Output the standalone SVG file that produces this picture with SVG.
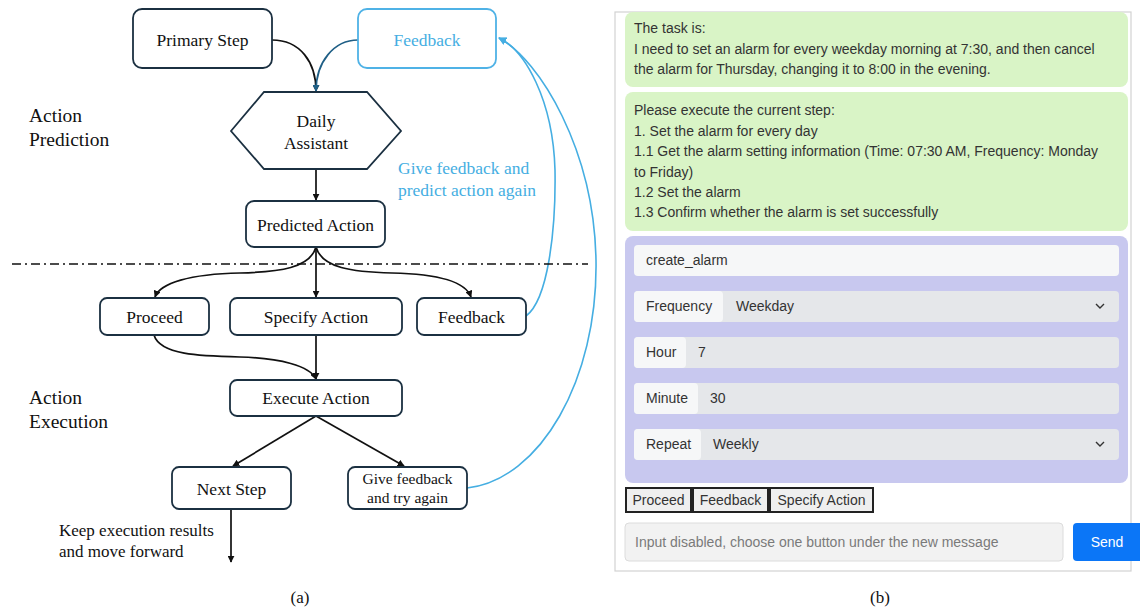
<svg xmlns="http://www.w3.org/2000/svg" width="1140" height="609" viewBox="0 0 1140 609">
<defs>
<marker id="ah" viewBox="0 0 10 10" refX="9" refY="5" markerWidth="7" markerHeight="7" markerUnits="userSpaceOnUse" orient="auto"><path d="M0,0 L10,5 L0,10 z" fill="#111"/></marker>
<marker id="ahTeal" viewBox="0 0 10 10" refX="9" refY="5" markerWidth="7" markerHeight="7" markerUnits="userSpaceOnUse" orient="auto"><path d="M0,0 L10,5 L0,10 z" fill="#1f5f86"/></marker>
<marker id="ahBlue" viewBox="0 0 10 10" refX="9" refY="5" markerWidth="8" markerHeight="8" markerUnits="userSpaceOnUse" orient="auto"><path d="M0,0 L10,5 L0,10 z" fill="#45aee2"/></marker>
<style>
.box{fill:#fff;stroke:#1b3041;stroke-width:1.8}
.bbox{fill:#fff;stroke:#4fb2e6;stroke-width:1.8}
.t{font-family:"Liberation Serif","Times New Roman",serif;font-size:17.5px;fill:#111;text-anchor:middle}
.tb{font-family:"Liberation Serif","Times New Roman",serif;font-size:17.5px;fill:#45aee2}
.side{font-family:"Liberation Serif","Times New Roman",serif;font-size:19.5px;fill:#111}
.small{font-family:"Liberation Serif","Times New Roman",serif;font-size:15.5px;fill:#111;text-anchor:middle}
.note{font-family:"Liberation Serif","Times New Roman",serif;font-size:17px;fill:#111}
.cap{font-family:"Liberation Serif","Times New Roman",serif;font-size:17px;fill:#111;text-anchor:middle}
.k{fill:none;stroke:#111;stroke-width:1.7}
.kb{fill:none;stroke:#45aee2;stroke-width:1.6}
.ui{font-family:"Liberation Sans",Arial,Helvetica,sans-serif;font-size:14px;fill:#333}
.green{fill:#d9f4c6}
.lab{fill:#f6f7f8}
.val{fill:#e5e7ea}
.btn{fill:#efefef;stroke:#222;stroke-width:2}
.chev{fill:none;stroke:#333;stroke-width:1.4}
</style>
</defs>

<!-- connectors -->
<g id="connectors">
<path class="k" d="M272,40 C300,40 316,62 316,91" marker-end="url(#ah)"/>
<path d="M358,40 C334,40 316,62 316,91" fill="none" stroke="#1f5f86" stroke-width="1.7" marker-end="url(#ahTeal)"/>
<path class="k" d="M316,169 L316,200" marker-end="url(#ah)"/>
<path class="k" d="M316,247 C310,268 280,272 240,273 C190,274 160,283 155,297" marker-end="url(#ah)"/>
<path class="k" d="M316,247 L316,297" marker-end="url(#ah)"/>
<path class="k" d="M316,247 C322,268 352,272 392,273 C442,274 466,283 471,297" marker-end="url(#ah)"/>
<path class="k" d="M154,335 C160,355 200,356 240,357 C280,358 310,366 316,379" marker-end="url(#ah)"/>
<path class="k" d="M316,335 L316,379" marker-end="url(#ah)"/>
<path class="k" d="M316,416 L233,466" marker-end="url(#ah)"/>
<path class="k" d="M316,416 L404,466" marker-end="url(#ah)"/>
<path class="k" d="M231,509 L231,562" marker-end="url(#ah)"/>
<path class="kb" d="M526,316 C548,300 556,230 555,170 C553,100 525,50 499,38" marker-end="url(#ahBlue)"/>
<path class="kb" d="M467,488 C540,480 598,380 596,260 C594,150 540,60 499,38" marker-end="url(#ahBlue)"/>
<path d="M12,264 L588,264" fill="none" stroke="#111" stroke-width="1.6" stroke-dasharray="9 4 2 4"/>
</g>

<g id="primary-step"><rect class="box" x="133" y="9" width="139" height="59" rx="9"/><text class="t" x="202.5" y="46">Primary Step</text></g>
<g id="feedback-top"><rect class="bbox" x="358" y="9" width="138" height="59" rx="9"/><text class="tb" x="427" y="46" text-anchor="middle">Feedback</text></g>
<g id="daily-assistant"><polygon class="box" points="231,131 264,92 367,92 401,131 367,169 264,169"/><text class="t" x="316" y="127">Daily</text><text class="t" x="316" y="149">Assistant</text></g>
<g id="predicted-action"><rect class="box" x="246" y="201" width="139" height="46" rx="8"/><text class="t" x="315.5" y="231">Predicted Action</text></g>
<g id="feedback-label"><text class="tb" x="398" y="174">Give feedback and</text><text class="tb" x="398" y="196">predict action again</text></g>
<g id="label-prediction"><text class="side" x="29" y="122">Action</text><text class="side" x="29" y="146">Prediction</text></g>
<g id="proceed"><rect class="box" x="100" y="298" width="109" height="37" rx="7"/><text class="t" x="154.5" y="323">Proceed</text></g>
<g id="specify-action"><rect class="box" x="230" y="298" width="172" height="37" rx="7"/><text class="t" x="316" y="323">Specify Action</text></g>
<g id="feedback-mid"><rect class="box" x="417" y="298" width="109" height="37" rx="7"/><text class="t" x="471.5" y="323">Feedback</text></g>
<g id="execute-action"><rect class="box" x="230" y="380" width="172" height="36" rx="7"/><text class="t" x="316" y="404">Execute Action</text></g>
<g id="label-execution"><text class="side" x="29" y="404">Action</text><text class="side" x="29" y="428">Execution</text></g>
<g id="next-step"><rect class="box" x="172" y="467" width="119" height="42" rx="7"/><text class="t" x="231.5" y="495">Next Step</text></g>
<g id="give-feedback"><rect class="box" x="348" y="467" width="119" height="42" rx="7"/><text class="small" x="407.5" y="484">Give feedback</text><text class="small" x="407.5" y="503">and try again</text></g>
<g id="keep-label"><text class="note" x="59" y="536">Keep execution results</text><text class="note" x="59" y="557">and move forward</text></g>
<text class="cap" x="300" y="603">(a)</text>

<!-- right panel -->
<g id="chat-panel">
<rect x="615" y="12" width="516" height="559" fill="#fff" stroke="#d2d2d2" stroke-width="1.2"/>
<rect class="green" x="625" y="12" width="503" height="75" rx="8"/>
<text class="ui" x="634" y="33">The task is:</text>
<text class="ui" x="634" y="54">I need to set an alarm for every weekday morning at 7:30, and then cancel</text>
<text class="ui" x="634" y="74">the alarm for Thursday, changing it to 8:00 in the evening.</text>
<rect class="green" x="625" y="92" width="503" height="139" rx="8"/>
<text class="ui" x="634" y="115">Please execute the current step:</text>
<text class="ui" x="634" y="136">1. Set the alarm for every day</text>
<text class="ui" x="634" y="156">1.1 Get the alarm setting information (Time: 07:30 AM, Frequency: Monday</text>
<text class="ui" x="634" y="177">to Friday)</text>
<text class="ui" x="634" y="197">1.2 Set the alarm</text>
<text class="ui" x="634" y="217">1.3 Confirm whether the alarm is set successfully</text>
<rect x="625" y="236" width="503" height="247" rx="8" fill="#c8c8ef"/>
<rect class="lab" x="634" y="245" width="485" height="31" rx="4"/>
<text class="ui" x="646" y="265">create_alarm</text>
<rect class="val" x="634" y="291" width="485" height="31" rx="4"/>
<rect class="lab" x="634" y="291" width="89" height="31" rx="4"/>
<text class="ui" x="646" y="311">Frequency</text><text class="ui" x="736" y="311">Weekday</text>
<path class="chev" d="M1096,304 L1100,308 L1104,304"/>
<rect class="val" x="634" y="337" width="485" height="31" rx="4"/>
<rect class="lab" x="634" y="337" width="52" height="31" rx="4"/>
<text class="ui" x="646" y="357">Hour</text><text class="ui" x="698" y="357">7</text>
<rect class="val" x="634" y="383" width="485" height="31" rx="4"/>
<rect class="lab" x="634" y="383" width="64" height="31" rx="4"/>
<text class="ui" x="646" y="403">Minute</text><text class="ui" x="710" y="403">30</text>
<rect class="val" x="634" y="429" width="485" height="31" rx="4"/>
<rect class="lab" x="634" y="429" width="67" height="31" rx="4"/>
<text class="ui" x="646" y="449">Repeat</text><text class="ui" x="713" y="449">Weekly</text>
<path class="chev" d="M1096,442 L1100,446 L1104,442"/>
</g>
<g id="buttons">
<rect class="btn" x="626" y="488" width="65" height="24"/><text class="ui" x="658.5" y="505" text-anchor="middle" fill="#111">Proceed</text>
<rect class="btn" x="693" y="488" width="75" height="24"/><text class="ui" x="730.5" y="505" text-anchor="middle" fill="#111">Feedback</text>
<rect class="btn" x="770" y="488" width="103" height="24"/><text class="ui" x="821.5" y="505" text-anchor="middle" fill="#111">Specify Action</text>
</g>
<g id="input">
<rect x="625" y="523" width="438" height="38" rx="4" fill="#f2f2f2" stroke="#dcdcdc"/>
<text class="ui" x="635" y="547" fill="#777" style="fill:#7a7a7a">Input disabled, choose one button under the new message</text>
<rect x="1073" y="523" width="72" height="38" rx="4" fill="#0b76f7"/>
<text class="ui" x="1107" y="547" text-anchor="middle" style="fill:#fff">Send</text>
</g>
<text class="cap" x="880" y="603">(b)</text>
</svg>
